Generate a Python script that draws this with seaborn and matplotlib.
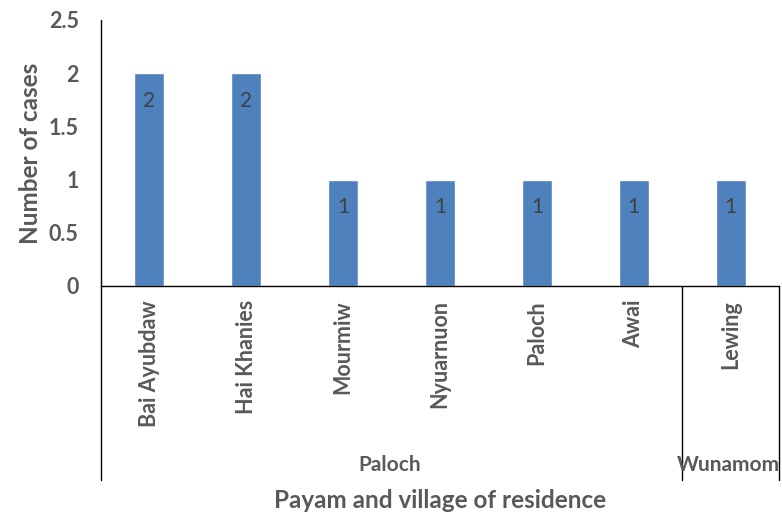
import matplotlib
matplotlib.use("Agg")
import matplotlib.pyplot as plt
import seaborn as sns
import pandas as pd

villages = ["Bai Ayubdaw", "Hai Khanies", "Mourmiw", "Nyuarnuon", "Paloch", "Awai", "Lewing"]
cases = [2, 2, 1, 1, 1, 1, 1]
payams = ["Paloch", "Wunamom"]
payam_village_counts = [6, 1]
y_ticks = [0, 0.5, 1, 1.5, 2, 2.5]
y_tick_labels = ["0", "0.5", "1", "1.5", "2", "2.5"]

sns.set_theme(style="white")
plt.rcParams["font.family"] = ["Lato", "DejaVu Sans"]

grey = "#595959"
df = pd.DataFrame({"village": villages, "cases": cases})

fig = plt.figure(figsize=(7.82, 5.15), dpi=100)
ax = fig.add_axes([101 / 782, (515 - 286) / 515, 678 / 782, 266 / 515])

sns.barplot(data=df, x="village", y="cases", color="#4F81BD", saturation=1,
            width=0.31, ax=ax)

ax.set_xlim(-0.5, len(villages) - 0.5)
ax.set_ylim(0, 2.5)
ax.set_yticks(y_ticks)
ax.set_yticklabels(y_tick_labels)
ax.tick_params(axis="y", length=0, pad=16, labelsize=15.5, labelcolor=grey)
ax.tick_params(axis="x", length=0, pad=10, labelsize=15.5, labelcolor=grey)
for lbl in ax.get_yticklabels():
    lbl.set_fontweight("bold")
for lbl in ax.get_xticklabels():
    lbl.set_fontweight("bold")
    lbl.set_rotation(90)
    lbl.set_va("top")
    lbl.set_ha("center")

for s in ["top", "right", "left"]:
    ax.spines[s].set_visible(False)
ax.spines["bottom"].set_color("black")
ax.spines["bottom"].set_linewidth(1.0)

# value labels inside the top of each bar
for i, v in enumerate(cases):
    ax.text(i, v - 0.26, str(v), ha="center", va="center", fontsize=15,
            color="#404040")

# grouping frame below the axis
tr = ax.get_xaxis_transform()
low = (286 - 480) / 266
ax.plot([-0.5, -0.5], [low, 1.0], transform=tr, color="black", lw=1.0, clip_on=False)
start = -0.5
for name, n in zip(payams, payam_village_counts):
    end = start + n
    ax.plot([end, end], [low, 0], transform=tr, color="black", lw=1.0, clip_on=False)
    ax.text((start + end) / 2 - 0.02, (286 - 465) / 266, name, transform=tr, ha="center",
            va="center", fontsize=15, fontweight="bold", color=grey, clip_on=False)
    start = end

ax.set_xlabel("")
ax.set_ylabel("Number of cases", fontsize=17.5, fontweight="bold", color=grey, labelpad=5)
fig.text(440 / 782, 1 - 501 / 515, "Payam and village of residence", ha="center",
         va="center", fontsize=17.5, fontweight="bold", color=grey)

fig.savefig("out.png", dpi=100)
